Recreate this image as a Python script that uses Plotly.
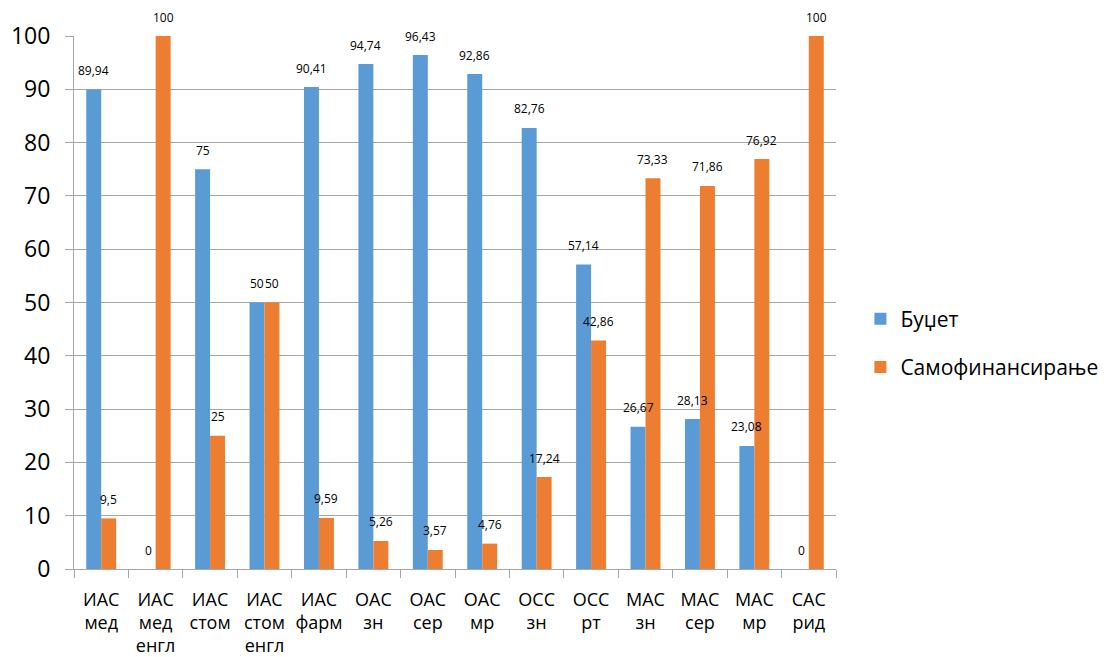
import plotly.graph_objects as go

categories = ["ИАС<br>мед", "ИАС<br>мед<br>енгл", "ИАС<br>стом", "ИАС<br>стом<br>енгл", "ИАС<br>фарм",
              "ОАС<br>зн", "ОАС<br>сер", "ОАС<br>мр", "ОСС<br>зн", "ОСС<br>рт",
              "МАС<br>зн", "МАС<br>сер", "МАС<br>мр", "САС<br>рид"]
budget = [89.94, 0, 75, 50, 90.41, 94.74, 96.43, 92.86, 82.76, 57.14, 26.67, 28.13, 23.08, 0]
selffin = [9.5, 100, 25, 50, 9.59, 5.26, 3.57, 4.76, 17.24, 42.86, 73.33, 71.86, 76.92, 100]
series_names = ["Буџет", "Самофинансирање"]
series_colors = ["#5B9BD5", "#ED7D31"]


def fmt(v):
    s = ("%.2f" % v).rstrip("0").rstrip(".")
    return s.replace(".", ",")


font_family = "Open Sans, Liberation Sans, sans-serif"

W, H = 1119, 657
L, R, T, B = 74, 283, 36, 88
plot_w = W - L - R
bargap = 0.45
bar_px = plot_w / len(categories) * (1 - bargap) / 2

fig = go.Figure()
for k, (name, vals) in enumerate(zip(series_names, [budget, selffin])):
    fig.add_trace(go.Bar(x=categories, y=vals, name=name, marker_color=series_colors[k],
                         marker_line_width=0, legendgroup=name))

annotations = []
for k, vals in enumerate([budget, selffin]):
    shift = (-0.5 if k == 0 else 0.5) * bar_px
    for c, v in zip(categories, vals):
        annotations.append(dict(x=c, y=v, xref="x", yref="y", text=fmt(v), showarrow=False,
                                xshift=shift, yshift=19, font=dict(size=12, color="#000000")))

fig.update_layout(
    width=W, height=H,
    margin=dict(l=L, r=R, t=T, b=B, autoexpand=False),
    paper_bgcolor="white", plot_bgcolor="white",
    barmode="group", bargap=bargap, bargroupgap=0,
    font=dict(family=font_family, color="#000000"),
    showlegend=True,
    legend=dict(x=1.032, y=0.424, xanchor="left", yanchor="middle",
                font=dict(size=21), tracegroupgap=18, itemwidth=30),
    annotations=annotations,
)
fig.update_yaxes(range=[0, 100], dtick=10, showgrid=True, gridcolor="#A6A6A6", gridwidth=1,
                 showline=True, linecolor="#A6A6A6", linewidth=1, ticks="outside", ticklen=8,
                 tickcolor="#A6A6A6", ticklabelstandoff=10, automargin=False,
                 tickfont=dict(size=23), zeroline=False)
fig.update_xaxes(showline=True, linecolor="#A6A6A6", linewidth=1, ticks="outside",
                 tickson="boundaries", ticklen=8, tickcolor="#A6A6A6", ticklabelstandoff=14,
                 automargin=False, tickfont=dict(size=18), tickangle=0)

fig.write_html("out.html", config={"displayModeBar": False},
               post_script="document.body.style.margin='0';document.body.style.overflow='hidden';")
